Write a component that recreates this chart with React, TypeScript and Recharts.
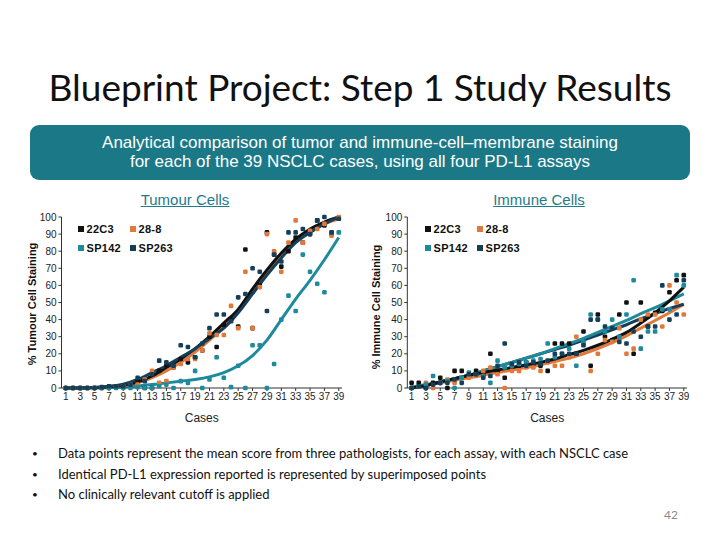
import React from "react";
import { ComposedChart, Scatter, Line, XAxis, YAxis, Legend } from "recharts";

// case numbers (x) and tick labels
const cases = [
  1, 2, 3, 4, 5, 6, 7, 8, 9, 10, 11, 12, 13, 14, 15, 16, 17, 18, 19, 20,
  21, 22, 23, 24, 25, 26, 27, 28, 29, 30, 31, 32, 33, 34, 35, 36, 37, 38, 39,
];
const trendCases = [1, 3, 5, 7, 9, 11, 13, 15, 17, 19, 21, 23, 25, 27, 29, 31, 33, 35, 37, 39];
const caseTicks = [1, 3, 5, 7, 9, 11, 13, 15, 17, 19, 21, 23, 25, 27, 29, 31, 33, 35, 37, 39];
const valueTicks = [0, 10, 20, 30, 40, 50, 60, 70, 80, 90, 100];

const assays = ["22C3", "28-8", "SP142", "SP263"];
const assayColors = ["#111111", "#e2793b", "#1e8b9c", "#143f5a"];

// Tumour cells - mean score per case
const tumour22C3 = [0, 0, 0, 0, 0, 0, 0.5, 1, 1, 2, 4, 0, 0, 10, 13, 12, 17, 15, 18, 22, 30, 24, 37, 40, 36, 81, 35, 60, 91, 78, 71, 80, 88, 85, 90, 98, 95, 90, 99];
const tumour288 = [0, 0, 0, 0, 0, 0, 0, 1, 1, 2, 2, 5, 10, 3, 4, 12, 14, 17, 17, 22, 32, 31, 31, 48, 35, 68, 35, 59, 90, 80, 68, 85, 98, 85, 92, 93, 96, 89, 100];
const tumourSP142 = [0, 0, 0, 0, 0, 0, 0, 0, 0, 0, 0.5, 0, 0, 1, 2, 0, 4, 3, 10, 0, 5, 18, 6, 0.5, 13, 0, 25, 25, 0, 14, 40, 54, 45, 78, 68, 61, 56, 91, 91];
const tumourSP263 = [0, 0, 0, 0, 0, 0.5, 1, 1, 1, 2, 6, 4, 8, 16, 15, 13, 25, 24, 18, 26, 35, 43, 43, 39, 53, 55, 70, 68, 45, 78, 74, 91, 91, 93, 90, 98, 100, 91, 99];

// Tumour cells - trend lines
const tumourTrend22C3 = [0, 0, 0.3, 0.8, 1.8, 3.5, 7, 12, 17, 23, 30, 38, 46, 58, 69, 79, 87, 93, 97, 100];
const tumourTrend288 = [0, 0, 0.2, 0.6, 1.5, 3, 6, 10, 15, 21, 28, 36, 46, 57, 68, 78, 86, 92, 96, 99];
const tumourTrendSP142 = [0, 0, 0, 0.3, 0.6, 1.2, 2, 3, 4, 5, 6.5, 9, 13, 19, 28, 40, 52, 63, 75, 88];
const tumourTrendSP263 = [0, 0, 0.4, 1, 2.2, 5, 9, 13, 18, 23, 29, 35, 44, 55, 66, 76, 85, 91, 96, 100];

// Immune cells - mean score per case
const immune22C3 = [3, 3, 0, 3, 6, 0, 10, 10, 7, 10, 8, 20, 10, 6, 12, 13, 15, 14, 13, 10, 26, 26, 26, 20, 33, 13, 43, 30, 28, 43, 50, 20, 50, 36, 44, 45, 56, 63, 66];
const immune288 = [0, 1, 3, 0, 3, 5, 3, 6, 6, 7, 10, 12, 8, 0, 10, 10, 12, 12, 10, 15, 13, 13, 18, 30, 26, 10, 20, 28, 27, 35, 20, 23, 40, 43, 43, 36, 60, 50, 43];
const immuneSP142 = [0, 1, 2, 7, 3, 4, 0, 6, 9, 8, 7, 3, 16, 12, 13, 14, 15, 16, 17, 26, 18, 20, 23, 13, 27, 43, 40, 33, 40, 30, 43, 63, 23, 33, 33, 46, 46, 66, 60];
const immuneSP263 = [0, 1, 0, 2, 3, 3, 5, 3, 8, 8, 6, 7, 13, 26, 14, 15, 13, 15, 14, 16, 20, 20, 20, 20, 25, 40, 40, 36, 35, 27, 26, 33, 30, 36, 36, 60, 40, 43, 63];

// Immune cells - trend lines
const immuneTrend22C3 = [0, 1.5, 3.5, 5.5, 7.5, 9, 10.5, 12, 13.5, 15, 17, 19.5, 22, 25, 28.5, 32.5, 38, 44, 51, 59];
const immuneTrend288 = [0.5, 1.5, 3, 4.5, 6, 7.5, 9, 10.5, 12, 13.5, 15.5, 17.5, 20, 23, 26.5, 30.5, 35, 39.5, 44, 49];
const immuneTrendSP142 = [0.5, 2, 3.5, 5.5, 7.5, 10, 12.5, 15, 17.5, 20, 23, 26, 29, 32.5, 36, 39.5, 43.5, 47, 51, 55];
const immuneTrendSP263 = [0, 1.5, 3.5, 5.5, 7.5, 10, 12.5, 15, 17.5, 20, 22.5, 25, 28, 31, 34, 37, 40.5, 43.5, 46.5, 49];

const toPoints = (vals: number[]) => cases.map((c, i) => ({ case: c, v: vals[i] }));
const toTrend = (vals: number[]) => trendCases.map((c, i) => ({ case: c, v: vals[i] }));

const squareDot = (fill: string) => (props: any) => (
  <rect x={props.cx - 2.3} y={props.cy - 2.3} width={4.6} height={4.6} rx={1.3} fill={fill} />
);

const AssayLegend = () => (
  <div style={{ fontFamily: '"Liberation Sans", Arial, sans-serif', fontWeight: 700, fontSize: 11, color: "#111" }}>
    {[0, 2].map((row) => (
      <div key={row} style={{ display: "flex", height: 18.5, alignItems: "center" }}>
        {[row, row + 1].map((i) => (
          <div key={i} style={{ display: "flex", alignItems: "center", width: i % 2 === 0 ? 52 : 70 }}>
            <span style={{ display: "inline-block", width: 6, height: 6, background: assayColors[i], marginRight: 2.5 }} />
            <span style={{ letterSpacing: 0.3 }}>{assays[i]}</span>
          </div>
        ))}
      </div>
    ))}
  </div>
);

interface ChartProps {
  points: number[][];
  trends: number[][];
  trendOrder: number[];
  yLabel: string;
  labelX: number;
  labelY: number;
  marginLeft: number;
  marginRight: number;
  axisWidth: number;
  legendLeft: number;
}

const StainChart: React.FC<ChartProps> = ({
  points, trends, trendOrder, yLabel, labelX, labelY, marginLeft, marginRight, axisWidth, legendLeft,
}) => {
  return (
    <ComposedChart width={360} height={238} margin={{ top: 27, right: marginRight, bottom: 0, left: marginLeft }}>
      <XAxis
        type="number"
        dataKey="case"
        domain={[0.4, 39.45]}
        ticks={caseTicks}
        interval={0}
        height={40}
        tickSize={3}
        tickMargin={2}
        stroke="#333"
        tick={{ fill: "#222", fontSize: 10, fontFamily: '"Liberation Sans", Arial, sans-serif' }}
        label={{ value: "Cases", position: "insideBottom", offset: 6, fill: "#222", fontSize: 12, fontFamily: '"Liberation Sans", Arial, sans-serif' }}
      />
      <YAxis
        type="number"
        dataKey="v"
        domain={[0, 100]}
        ticks={valueTicks}
        interval={0}
        width={axisWidth}
        tickSize={3}
        tickMargin={2}
        stroke="#333"
        tick={{ fill: "#222", fontSize: 10, fontFamily: '"Liberation Sans", Arial, sans-serif' }}
        label={{
          content: () => (
            <text
              x={labelX}
              y={labelY}
              transform={`rotate(-90, ${labelX}, ${labelY})`}
              textAnchor="middle"
              dominantBaseline="central"
              fontSize={11}
              fontWeight={700}
              fill="#111"
              fontFamily='"Liberation Sans", Arial, sans-serif'
            >
              {yLabel}
            </text>
          ),
        }}
      />
      <Legend
        layout="vertical"
        align="center"
        verticalAlign="middle"
        content={() => <AssayLegend />}
        wrapperStyle={{ position: "absolute", left: legendLeft, top: 30, width: 130 }}
      />
      {points.map((vals, i) => (
        <Scatter
          key={"s" + i}
          name={assays[i]}
          data={toPoints(vals)}
          fill={assayColors[i]}
          shape={squareDot(assayColors[i])}
          isAnimationActive={false}
        />
      ))}
      {trendOrder.map((i) => (
        <Line
          key={"l" + i}
          data={toTrend(trends[i])}
          dataKey="v"
          type="monotone"
          stroke={assayColors[i]}
          strokeWidth={3}
          dot={false}
          legendType="none"
          isAnimationActive={false}
        />
      ))}
    </ComposedChart>
  );
};

const bullets = [
  "Data points represent the mean score from three pathologists, for each assay, with each NSCLC case",
  "Identical PD-L1 expression reported is represented by superimposed points",
  "No clinically relevant cutoff is applied",
];

export default function App() {
  return (
    <div
      style={{
        position: "absolute",
        left: 0,
        top: 0,
        width: 720,
        height: 540,
        background: "#fff",
        overflow: "hidden",
        fontFamily: '"Liberation Sans", Arial, sans-serif',
      }}
    >
      <div style={{ position: "absolute", left: 0, top: 62, width: 720, textAlign: "center", fontFamily: "Lato", fontSize: 37, lineHeight: "50px", color: "#111" }}>
        Blueprint Project: Step 1 Study Results
      </div>
      <div
        style={{
          position: "absolute",
          left: 30,
          top: 125,
          width: 660,
          height: 55,
          borderRadius: 9,
          background: "#1b7987",
          color: "#fff",
          textAlign: "center",
          fontSize: 17,
          lineHeight: "19px",
          paddingTop: 8,
          boxSizing: "border-box",
        }}
      >
        Analytical comparison of tumor and immune-cell–membrane staining
        <br />
        for each of the 39 NSCLC cases, using all four PD-L1 assays
      </div>

      <div style={{ position: "absolute", left: 85, top: 190, width: 200, textAlign: "center", fontSize: 15, color: "#1d7b8a", textDecoration: "underline", lineHeight: "20px" }}>
        Tumour Cells
      </div>
      <div style={{ position: "absolute", left: 439, top: 190, width: 200, textAlign: "center", fontSize: 15, color: "#1d7b8a", textDecoration: "underline", lineHeight: "20px" }}>
        Immune Cells
      </div>

      <div style={{ position: "absolute", left: 0, top: 190 }}>
        <StainChart
          points={[tumour22C3, tumour288, tumourSP142, tumourSP263]}
          trends={[tumourTrend22C3, tumourTrend288, tumourTrendSP142, tumourTrendSP263]}
          trendOrder={[2, 1, 0, 3]}
          yLabel="% Tumour Cell Staining"
          labelX={31.7}
          labelY={114}
          marginLeft={20}
          marginRight={18}
          axisWidth={41.5}
          legendLeft={78}
        />
      </div>
      <div style={{ position: "absolute", left: 360, top: 190 }}>
        <StainChart
          points={[immune22C3, immune288, immuneSP142, immuneSP263]}
          trends={[immuneTrend22C3, immuneTrend288, immuneTrendSP142, immuneTrendSP263]}
          trendOrder={[1, 3, 2, 0]}
          yLabel="% Immune Cell Staining"
          labelX={16}
          labelY={117}
          marginLeft={10}
          marginRight={33}
          axisWidth={37.3}
          legendLeft={65}
        />
      </div>

      {bullets.map((b, i) => (
        <div key={i} style={{ position: "absolute", left: 0, top: 443 + i * 20.5, width: 720, fontFamily: "Lato", fontSize: 13, lineHeight: "20px", color: "#111" }}>
          <span style={{ position: "absolute", left: 32, fontSize: 10 }}>•</span>
          <span style={{ position: "absolute", left: 58 }}>{b}</span>
        </div>
      ))}
      <div style={{ position: "absolute", left: 664, top: 507, fontFamily: "Lato", fontSize: 12, color: "#8a8a8a" }}>42</div>
    </div>
  );
}
